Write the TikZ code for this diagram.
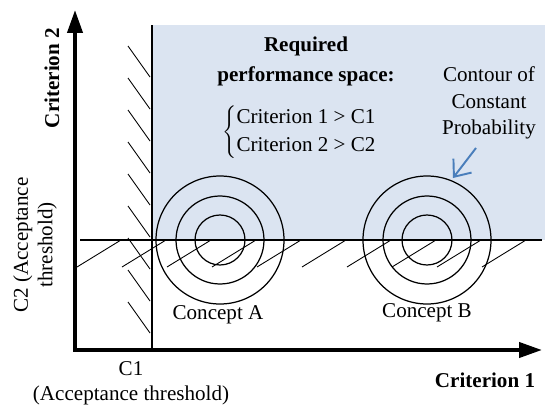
\documentclass[tikz,border=0pt]{standalone}
\usepackage{fontspec}
\setmainfont{Liberation Serif}
\usetikzlibrary{arrows.meta}
\definecolor{spaceblue}{RGB}{219,228,241}
\definecolor{arrowblue}{RGB}{74,126,187}

\begin{document}
\begin{tikzpicture}[x=0.02cm, y=-0.02cm, font=\fontsize{12}{14}\selectfont,
    axis/.style={line width=2.2pt, {Triangle[length=13pt,width=8.5pt]}-{Triangle[length=13pt,width=8.5pt]}},
    limit/.style={line width=1.1pt},
    hatch/.style={line width=0.5pt},
    contour/.style={line width=0.7pt}]
    \useasboundingbox (0,0) rectangle (548,409);
    % required performance space
    \fill [spaceblue] (152,25) rectangle (545,240);
    % axes
    \coordinate (ytip) at (75,10);
    \coordinate (origin) at (75,350);
    \coordinate (xtip) at (542,350);
    \draw [axis] (ytip) -- (origin) -- (xtip);
    % acceptance thresholds
    \coordinate (c1top) at (152,25);
    \coordinate (c1bot) at (152,350);
    \coordinate (c2left) at (80,240);
    \coordinate (c2right) at (542,240);
    \foreach \y in {46,78,...,302}
        \draw [hatch] (128,\y) -- +(22,31);
    \foreach \x in {77,122,...,482}
        \draw [hatch] (\x,267) -- +(44,-27);
    \draw [limit] (c1top) -- (c1bot);
    \draw [limit] (c2left) -- (c2right);
    % concepts
    \coordinate (conceptA) at (220,240);
    \coordinate (conceptB) at (427,240);
    \foreach \r in {25,44,64} {
        \draw [contour] (conceptA) circle (\r*0.02cm);
        \draw [contour] (conceptB) circle (\r*0.02cm);
    }
    \node (labelA) at (218,315) {Concept A};
    \node (labelB) at (427,313) {Concept B};
    % texts
    \node [align=center, font=\fontsize{12}{17}\selectfont\bfseries] (required) at (306,61) {Required\\performance space:};
    \node [font=\fontsize{12}{15.5}\selectfont] (conditions) at (300,132) {$\left\{\begin{tabular}{@{}l@{}}Criterion 1 > C1\\Criterion 2 > C2\end{tabular}\right.$};
    \node [align=center, font=\fontsize{12}{15}\selectfont] (contourtext) at (489,103) {Contour of\\Constant\\Probability};
    \coordinate (arrowstart) at (476,148);
    \coordinate (tipB) at (453,178);
    \draw [arrowblue, line width=1.1pt, -{Straight Barb[length=8pt,width=13pt]}] (arrowstart) -- (tipB);
    \node [font=\fontsize{12}{14}\selectfont\bfseries] (xlabel) at (485,380) {Criterion 1};
    \node [rotate=90, font=\fontsize{12}{14}\selectfont\bfseries] (ylabel) at (52,78) {Criterion 2};
    \node [align=center] (c1label) at (131,383) {C1\\(Acceptance threshold)};
    \node [align=center, rotate=90] (c2label) at (35,245) {C2 (Acceptance\\threshold)};
\end{tikzpicture}
\end{document}
